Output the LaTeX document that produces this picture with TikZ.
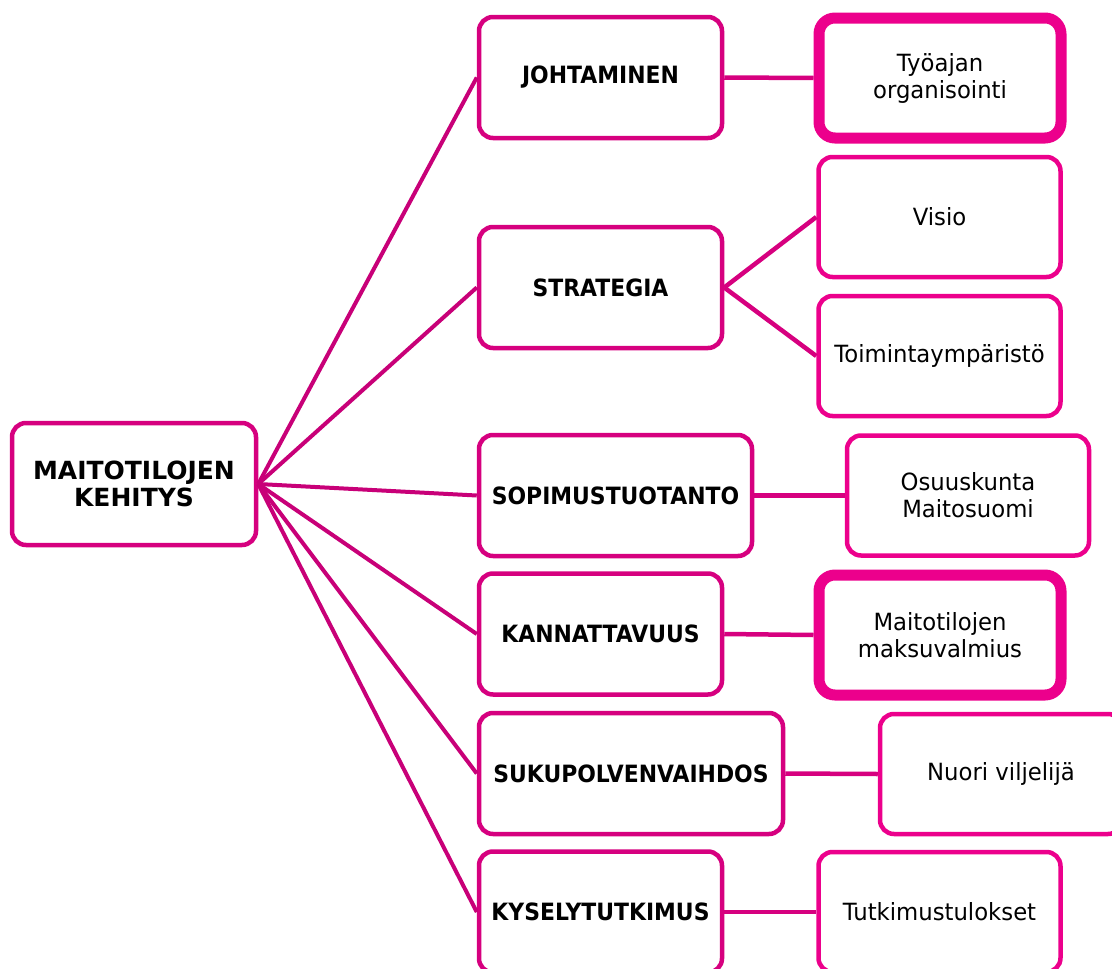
\documentclass[tikz,border=0pt]{standalone}
\usepackage{fontspec}
\setmainfont{DejaVu Sans}
\newfontfamily\condb{DejaVu Sans}[FakeStretch=0.92]
\newfontfamily\condr{DejaVu Sans}[FakeStretch=0.96]
\definecolor{leftc}{RGB}{214,0,127}
\definecolor{rightc}{RGB}{236,0,140}
\definecolor{linec}{RGB}{200,0,120}
\begin{document}
\begin{tikzpicture}[x=1pt,y=-1pt,
  box/.style={draw=leftc, line width=4.5pt, rounded corners=14pt, fill=white,
    align=center, inner sep=0pt, minimum width=243pt, minimum height=121pt,
    font=\condb\fontsize{23.8}{27}\selectfont\bfseries},
  rbox/.style={draw=rightc, line width=4.5pt, rounded corners=14pt, fill=white,
    align=center, inner sep=0pt, minimum width=242pt, minimum height=120pt,
    font=\condr\fontsize{23.7}{27}\selectfont},
  thick box/.style={rbox, line width=11pt, rounded corners=16pt},
  conn/.style={draw=linec, line width=4pt},
  rconn/.style={draw=leftc, line width=4.5pt}]
\useasboundingbox (0,0) rectangle (1112,969);
\clip (0,0) rectangle (1112,969);
\node[box, font=\fontsize{25}{27}\selectfont\bfseries, minimum width=244pt, minimum height=122pt] (main) at (134,484) {MAITOTILOJEN\\KEHITYS};
\node[box] (joh) at (600.5,77.5) {JOHTAMINEN};
\node[box] (str) at (600.5,287.5) {STRATEGIA};
\node[box, minimum width=273pt] (sop) at (615.5,495.5) {SOPIMUSTUOTANTO};
\node[box] (kan) at (600.5,634) {KANNATTAVUUS};
\node[box, minimum width=304pt] (suk) at (631,773.5) {SUKUPOLVENVAIHDOS};
\node[box] (kys) at (600.5,912) {KYSELYTUTKIMUS};
\node[thick box] (tyo) at (940,78) {Työajan\\organisointi};
\node[rbox] (vis) at (939.5,217) {Visio};
\node[rbox] (toi) at (939.5,356) {Toimintaympäristö};
\node[rbox] (osu) at (968,495.5) {Osuuskunta\\Maitosuomi};
\node[thick box] (mak) at (940,635) {Maitotilojen\\maksuvalmius};
\node[rbox] (nuo) at (1001,774) {Nuori viljelijä};
\node[rbox] (tut) at (939.5,912) {Tutkimustulokset};
\foreach \n in {joh,str,sop,kan,suk,kys}{
  \draw[conn] (main.east) -- (\n.west);
}
\draw[rconn] (joh.east) -- (tyo.west);
\draw[rconn] (str.east) -- (vis.west);
\draw[rconn] (str.east) -- (toi.west);
\draw[rconn] (sop.east) -- (osu.west);
\draw[rconn] (kan.east) -- (mak.west);
\draw[rconn] (suk.east) -- (nuo.west);
\draw[rconn] (kys.east) -- (tut.west);
\end{tikzpicture}
\end{document}
